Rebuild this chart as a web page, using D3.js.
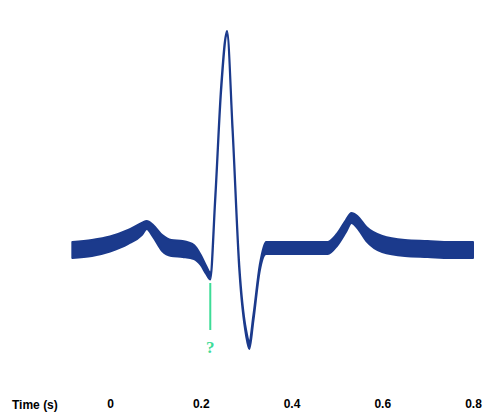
<!DOCTYPE html>
<html>
<head>
<meta charset="utf-8">
<script src="https://cdn.jsdelivr.net/npm/d3@7"></script>
<style>
  body { margin: 0; background: #fff; }
  svg { display: block; }
</style>
</head>
<body>
<svg id="chart" width="488" height="419"></svg>
<script>
// ECG trace: time (s), voltage (mV) and band half-thickness (mV)
var times   = [-0.083, -0.04, 0.0, 0.04, 0.07, 0.081, 0.095, 0.115, 0.135, 0.16, 0.185, 0.2, 0.212, 0.221, 0.232, 0.245, 0.258, 0.27, 0.285, 0.3, 0.307, 0.316, 0.33, 0.344, 0.4, 0.48, 0.5, 0.52, 0.532, 0.545, 0.565, 0.6, 0.65, 0.7, 0.75, 0.8];
var voltage = [-0.02, 0.0, 0.04, 0.11, 0.19, 0.23, 0.17, 0.05, 0.0, -0.01, -0.04, -0.12, -0.22, -0.28, 0.5, 1.6, 2.15, 1.2, -0.2, -0.85, -0.97, -0.7, -0.2, 0.0, 0.0, 0.0, 0.08, 0.22, 0.3, 0.26, 0.14, 0.04, 0.0, -0.01, -0.02, -0.02];
var spread  = [0.08, 0.08, 0.075, 0.07, 0.06, 0.04, 0.06, 0.08, 0.08, 0.08, 0.07, 0.05, 0.04, 0.035, 0.03, 0.03, 0.02, 0.03, 0.03, 0.03, 0.04, 0.03, 0.03, 0.06, 0.06, 0.06, 0.06, 0.06, 0.05, 0.06, 0.07, 0.08, 0.08, 0.08, 0.08, 0.08];
var tickValues = [0, 0.2, 0.4, 0.6, 0.8];
var markerTime = 0.221;

var svg = d3.select("#chart");
var x = d3.scaleLinear().domain([0, 0.8]).range([110, 473]);
var y = d3.scaleLinear().domain([0, 2]).range([248, 48]);

var pts = times.map(function(t, i) { return {t: t, v: voltage[i], s: spread[i]}; });

var band = d3.area()
    .x(function(d) { return x(d.t); })
    .y0(function(d) { return y(d.v - d.s); })
    .y1(function(d) { return y(d.v + d.s); })
    .curve(d3.curveMonotoneX);

svg.append("path")
    .datum(pts)
    .attr("d", band)
    .attr("fill", "#1b3a8c")
    .attr("stroke", "#1b3a8c")
    .attr("stroke-width", 2)
    .attr("stroke-linejoin", "round");

// marker at the Q wave
svg.append("line")
    .attr("x1", x(markerTime)).attr("x2", x(markerTime))
    .attr("y1", y(-0.35)).attr("y2", y(-0.82))
    .attr("stroke", "#3ddc97").attr("stroke-width", 2);

svg.append("text")
    .attr("x", x(markerTime)).attr("y", 353)
    .attr("text-anchor", "middle")
    .attr("font-family", "Liberation Serif, serif")
    .attr("font-weight", "bold")
    .attr("font-size", 17)
    .attr("fill", "#3ddc97")
    .text("?");

// time axis labels
var axis = d3.axisBottom(x).tickValues(tickValues).tickSize(0).tickFormat(d3.format("~g"));
var g = svg.append("g").attr("transform", "translate(0,396)").call(axis);
g.select(".domain").remove();
g.selectAll("text")
    .attr("font-family", "Liberation Sans, Arial, sans-serif")
    .attr("font-weight", "bold")
    .attr("font-size", 12)
    .attr("fill", "#000");

svg.append("text")
    .attr("x", 12).attr("y", 409)
    .attr("font-family", "Liberation Sans, Arial, sans-serif")
    .attr("font-weight", "bold")
    .attr("font-size", 12)
    .text("Time (s)");
</script>
</body>
</html>
